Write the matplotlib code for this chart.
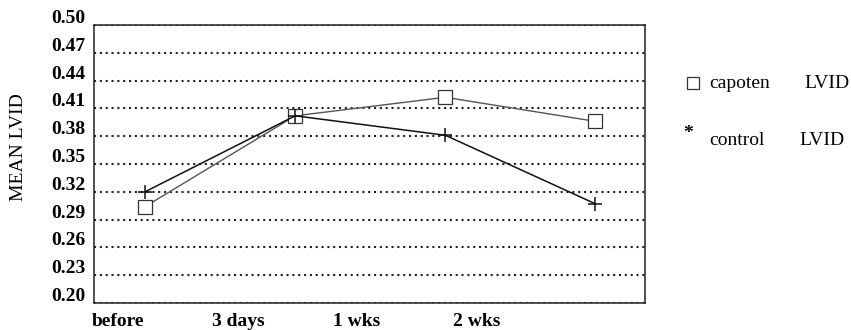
import matplotlib
matplotlib.use("Agg")
import matplotlib.pyplot as plt
from matplotlib.lines import Line2D
import matplotlib.transforms as mtransforms

# Data
point_x = [0, 1, 2, 3]
capoten = [0.304, 0.402, 0.422, 0.396]
control = [0.320, 0.402, 0.381, 0.307]
tick_labels = ["before", "3 days", "1 wks", "2 wks"]
tick_pos = [-0.18, 0.62, 1.41, 2.21]
y_ticks = [0.20, 0.23, 0.26, 0.29, 0.32, 0.35, 0.38, 0.41, 0.44, 0.47, 0.50]

serif = ["Liberation Serif", "DejaVu Serif"]

fig = plt.figure(figsize=(8.51, 3.30), dpi=100)
W, H = 851, 330
ax = fig.add_axes([94 / W, 1 - 303 / H, (645 - 94) / W, (303 - 25) / H])

ax.set_xlim(-0.34, 3.33)
ax.set_ylim(0.20, 0.50)

ax.yaxis.grid(True, color="#222222", linestyle=(0, (1, 1.8)), linewidth=1.5, zorder=1)
ax.set_axisbelow(True)

ax.plot(point_x, capoten, color="#555555", linewidth=1.0, marker="s", markersize=9.5,
        markerfacecolor="white", markeredgecolor="#333333", markeredgewidth=0.9, zorder=3)
ax.plot(point_x, control, color="#111111", linewidth=1.1, marker="+", markersize=10,
        markeredgewidth=1.1, zorder=4)

ax.set_yticks(y_ticks)
ax.set_yticklabels([f"{v:.2f}" for v in y_ticks], fontfamily=serif, fontweight="bold", fontsize=14,
                   va="baseline")
ax.set_xticks(tick_pos)
ax.set_xticklabels(tick_labels, fontfamily=serif, fontweight="bold", fontsize=14)
ax.tick_params(axis="y", length=0, pad=6)
ax.tick_params(axis="x", length=0, pad=7)
offset = mtransforms.ScaledTranslation(0, 2 / 100, fig.dpi_scale_trans)
for lbl in ax.get_yticklabels():
    lbl.set_transform(lbl.get_transform() + offset)

for s in ax.spines.values():
    s.set_linewidth(1.1)
    s.set_color("#222222")

fig.text(19 / W, 1 - 147 / H, "MEAN LVID", rotation=90, va="center", ha="center",
         fontfamily=serif, fontsize=14)

# Legend (outside the plot box, to the right)
fig.add_artist(Line2D([693 / W], [1 - 83 / H], marker="s", markersize=8, markerfacecolor="white",
                      markeredgecolor="#333333", markeredgewidth=0.9, linestyle="none",
                      transform=fig.transFigure))
fig.text(709 / W, 1 - 84 / H, "capoten", ha="left", va="center", fontfamily=serif, fontsize=14)
fig.text(804 / W, 1 - 84 / H, "LVID", ha="left", va="center", fontfamily=serif, fontsize=14)
fig.text(688 / W, 1 - 134 / H, "*", ha="center", va="center", fontfamily=serif, fontsize=14, fontweight="bold")
fig.text(709 / W, 1 - 140 / H, "control", ha="left", va="center", fontfamily=serif, fontsize=14)
fig.text(799 / W, 1 - 140 / H, "LVID", ha="left", va="center", fontfamily=serif, fontsize=14)

fig.savefig("out.png", dpi=100, facecolor="white")
